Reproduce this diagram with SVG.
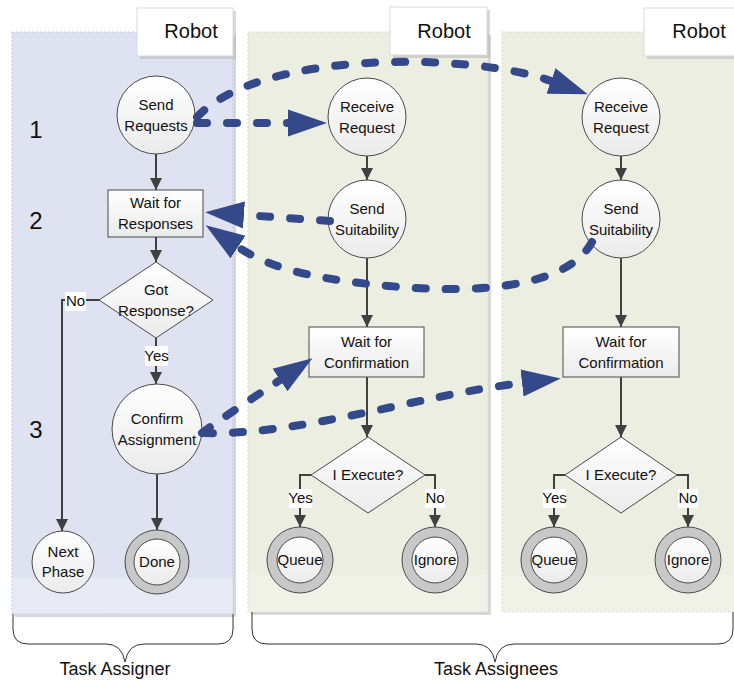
<svg xmlns="http://www.w3.org/2000/svg" width="734" height="681" viewBox="0 0 734 681">
  <defs>
    <style>
      .t { font-family: "Liberation Sans", Arial, sans-serif; font-size: 15px; fill: #111; text-anchor: middle; }
      .hdr { font-family: "Liberation Sans", Arial, sans-serif; font-size: 20px; fill: #111; text-anchor: middle; }
      .num { font-family: "Liberation Sans", Arial, sans-serif; font-size: 24px; fill: #111; text-anchor: middle; }
      .cap { font-family: "Liberation Sans", Arial, sans-serif; font-size: 18px; fill: #111; text-anchor: middle; }
      .node { fill: url(#nodeFill); stroke: #4a4a4a; stroke-width: 1; }
      .ring { fill: #c8c8c8; stroke: #4a4a4a; stroke-width: 1; }
      .flow { fill: none; stroke: #404040; stroke-width: 2; marker-end: url(#solidHead); }
      .msg { fill: none; stroke: #33498a; stroke-width: 8; stroke-linecap: round; stroke-dasharray: 10 20; marker-end: url(#msgHead); }
      .tag { fill: #ffffff; }
      .lane1 { fill: #dfe2f0; stroke: #c3c9e0; stroke-width: 1; stroke-dasharray: 2 2; }
      .lane1b { fill: #e7e9f4; }
      .lane2 { fill: #ebeee1; stroke: #d4d8c4; stroke-width: 1; stroke-dasharray: 2 2; }
      .lane2b { fill: #f0f2e8; }
      .shadow { fill: #b8b8b8; opacity: 0.55; }
      .head { fill: #ffffff; stroke: #d6dae6; stroke-width: 1; }
      .brace { fill: none; stroke: #333; stroke-width: 1; }
    </style>
    <linearGradient id="nodeFill" x1="0" y1="0" x2="0" y2="1">
      <stop offset="0" stop-color="#ffffff"/>
      <stop offset="1" stop-color="#ebebeb"/>
    </linearGradient>
    <marker id="solidHead" markerUnits="userSpaceOnUse" markerWidth="14" markerHeight="14" viewBox="0 -7 13 14" refX="12" refY="0" orient="auto">
      <path d="M0,-6 L12,0 L0,6 z" fill="#404040"/>
    </marker>
    <marker id="msgHead" markerUnits="userSpaceOnUse" markerWidth="42" markerHeight="30" viewBox="0 -15 42 30" refX="0" refY="0" orient="auto">
      <path d="M0,-13.5 L39,0 L0,13.5 z" fill="#33498a"/>
    </marker>
  </defs>

  <!-- swimlanes -->
  <g id="lanes">
    <rect class="shadow" x="15" y="35" width="221" height="582"/>
    <rect class="lane1" x="12" y="32" width="221" height="582"/>
    <rect class="lane1b" x="12.5" y="578" width="220" height="35.5"/>
    <rect class="shadow" x="140" y="11" width="96" height="48"/>
    <rect class="head" x="137" y="8" width="96" height="48"/>
    <text class="hdr" x="191" y="38">Robot</text>

    <rect class="shadow" x="251" y="35" width="240" height="580"/>
    <rect class="lane2" x="248" y="32" width="240" height="580"/>
    <rect class="lane2b" x="248.5" y="575" width="239" height="36.5"/>
    <rect class="shadow" x="393" y="10" width="97" height="48"/>
    <rect class="head" x="390" y="7" width="97" height="48"/>
    <text class="hdr" x="444" y="38">Robot</text>

    <rect class="lane2" x="502" y="32" width="240" height="580"/>
    <rect class="lane2b" x="502.5" y="575" width="239" height="36.5"/>
    <rect class="shadow" x="647" y="11" width="100" height="48"/>
    <rect class="head" x="644" y="8" width="100" height="48"/>
    <text class="hdr" x="699" y="38">Robot</text>
  </g>

  <!-- step numbers -->
  <g id="steps">
    <text class="num" x="36" y="138">1</text>
    <text class="num" x="36" y="229">2</text>
    <text class="num" x="36" y="438">3</text>
  </g>

  <!-- control-flow connectors -->
  <g id="connectors">
    <path class="flow" d="M156,154 L156,190"/>
    <path class="flow" d="M156,237 L156,262"/>
    <path class="flow" d="M156,338 L156,384"/>
    <path class="flow" d="M99,300 L62,300 L62,531"/>
    <path class="flow" d="M157,474 L157,530"/>

    <path class="flow" d="M367,156 L367,180"/>
    <path class="flow" d="M367,258 L367,327"/>
    <path class="flow" d="M367,377 L367,437"/>
    <path class="flow" d="M311,475 L300,475 L300,527"/>
    <path class="flow" d="M425,475 L435,475 L435,527"/>

    <path class="flow" d="M621,156 L621,180"/>
    <path class="flow" d="M621,258 L621,327"/>
    <path class="flow" d="M621,377 L621,437"/>
    <path class="flow" d="M565,475 L554,475 L554,527"/>
    <path class="flow" d="M677,475 L688,475 L688,527"/>
  </g>

  <!-- branch labels -->
  <g id="branch-labels">
    <rect class="tag" x="65" y="292" width="21" height="19"/>
    <text class="t" x="75.5" y="306">No</text>
    <rect class="tag" x="145" y="346" width="23" height="20"/>
    <text class="t" x="156.5" y="361">Yes</text>

    <rect class="tag" x="289" y="489" width="23" height="19"/>
    <text class="t" x="300.5" y="503">Yes</text>
    <rect class="tag" x="425" y="489" width="20" height="19"/>
    <text class="t" x="435" y="503">No</text>

    <rect class="tag" x="543" y="489" width="23" height="19"/>
    <text class="t" x="554.5" y="503">Yes</text>
    <rect class="tag" x="678" y="489" width="20" height="19"/>
    <text class="t" x="688" y="503">No</text>
  </g>

  <!-- task assigner nodes -->
  <g id="send-requests">
    <circle class="node" cx="156" cy="115" r="39"/>
    <text class="t" x="156" y="110">Send</text>
    <text class="t" x="156" y="131">Requests</text>
  </g>
  <g id="wait-for-responses">
    <rect class="node" x="108" y="190" width="95" height="47"/>
    <text class="t" x="155.5" y="208">Wait for</text>
    <text class="t" x="155.5" y="229">Responses</text>
  </g>
  <g id="got-response">
    <polygon class="node" points="156,262 213,300 156,338 99,300"/>
    <text class="t" x="156" y="295">Got</text>
    <text class="t" x="156" y="316">Response?</text>
  </g>
  <g id="confirm-assignment">
    <circle class="node" cx="157" cy="429" r="45"/>
    <text class="t" x="157" y="424">Confirm</text>
    <text class="t" x="157" y="445">Assignment</text>
  </g>
  <g id="next-phase">
    <circle class="node" cx="63" cy="562" r="31"/>
    <text class="t" x="63" y="557">Next</text>
    <text class="t" x="63" y="577">Phase</text>
  </g>
  <g id="done">
    <circle class="ring" cx="157" cy="562" r="32"/>
    <circle class="node" cx="157" cy="562" r="23"/>
    <text class="t" x="157" y="567">Done</text>
  </g>

  <!-- first assignee nodes -->
  <g id="receive-request-a">
    <circle class="node" cx="367" cy="117" r="39"/>
    <text class="t" x="367" y="112">Receive</text>
    <text class="t" x="367" y="133">Request</text>
  </g>
  <g id="send-suitability-a">
    <circle class="node" cx="367" cy="219" r="39"/>
    <text class="t" x="367" y="214">Send</text>
    <text class="t" x="367" y="235">Suitability</text>
  </g>
  <g id="wait-for-confirmation-a">
    <rect class="node" x="309" y="327" width="115" height="50"/>
    <text class="t" x="366.5" y="347">Wait for</text>
    <text class="t" x="366.5" y="368">Confirmation</text>
  </g>
  <g id="i-execute-a">
    <polygon class="node" points="368,437 425,475 368,513 311,475"/>
    <text class="t" x="368" y="480">I Execute?</text>
  </g>
  <g id="queue-a">
    <circle class="ring" cx="300" cy="560" r="33"/>
    <circle class="node" cx="300" cy="560" r="23"/>
    <text class="t" x="300" y="565">Queue</text>
  </g>
  <g id="ignore-a">
    <circle class="ring" cx="435" cy="560" r="33"/>
    <circle class="node" cx="435" cy="560" r="23"/>
    <text class="t" x="435" y="565">Ignore</text>
  </g>

  <!-- second assignee nodes -->
  <g id="receive-request-b">
    <circle class="node" cx="621" cy="117" r="39"/>
    <text class="t" x="621" y="112">Receive</text>
    <text class="t" x="621" y="133">Request</text>
  </g>
  <g id="send-suitability-b">
    <circle class="node" cx="621" cy="219" r="39"/>
    <text class="t" x="621" y="214">Send</text>
    <text class="t" x="621" y="235">Suitability</text>
  </g>
  <g id="wait-for-confirmation-b">
    <rect class="node" x="563" y="327" width="116" height="50"/>
    <text class="t" x="621" y="347">Wait for</text>
    <text class="t" x="621" y="368">Confirmation</text>
  </g>
  <g id="i-execute-b">
    <polygon class="node" points="621,437 677,475 621,513 565,475"/>
    <text class="t" x="621" y="480">I Execute?</text>
  </g>
  <g id="queue-b">
    <circle class="ring" cx="554" cy="560" r="33"/>
    <circle class="node" cx="554" cy="560" r="23"/>
    <text class="t" x="554" y="565">Queue</text>
  </g>
  <g id="ignore-b">
    <circle class="ring" cx="688" cy="560" r="33"/>
    <circle class="node" cx="688" cy="560" r="23"/>
    <text class="t" x="688" y="565">Ignore</text>
  </g>

  <!-- messages between robots -->
  <g id="messages">
    <path class="msg" d="M197,123 L288,123"/>
    <path class="msg" d="M197,117 C260,50 470,52 551,81"/>
    <path class="msg" d="M330,221 L244,215"/>
    <path class="msg" d="M592,242 C565,292 460,292 400,287 C330,281 275,272 238,247"/>
    <path class="msg" d="M202,433 C222,418 250,400 280,380"/>
    <path class="msg" d="M203,433 C300,436 420,395 522,383"/>
  </g>

  <!-- role braces -->
  <g id="braces">
    <path class="brace" d="M13,614 L13,629 Q13,644 28,644 L106,644 Q122,644 125,662 Q128,644 144,644 L218,644 Q233,644 233,629 L233,614"/>
    <text class="cap" x="115" y="675">Task Assigner</text>
    <path class="brace" d="M252,612 L252,629 Q252,644 267,644 L476,644 Q492,644 495,662 Q498,644 514,644 L718,644 Q733,644 733,629 L733,612"/>
    <text class="cap" x="496" y="675">Task Assignees</text>
  </g>
</svg>
